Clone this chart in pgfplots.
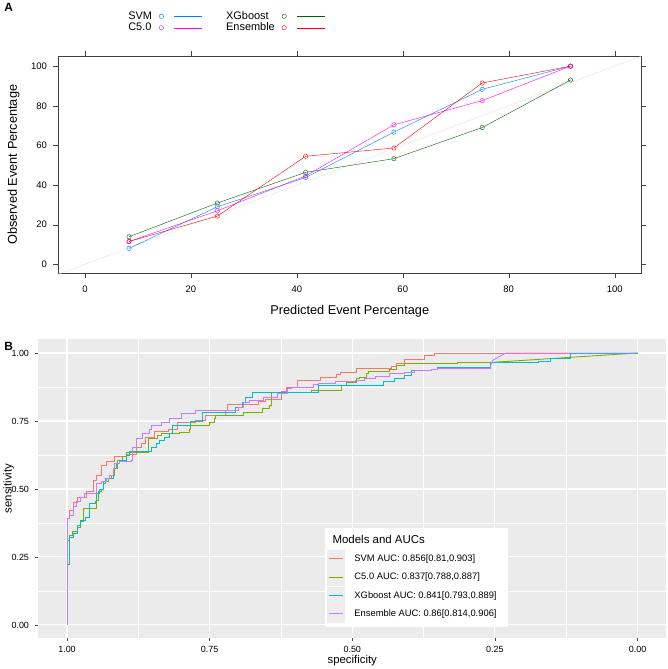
\documentclass[border=0pt]{standalone}
\usepackage{fontspec}
\setmainfont{Liberation Sans}
\usepackage{pgfplots}
\pgfplotsset{compat=1.18}
\definecolor{svma}{HTML}{0080FF}
\definecolor{cfivea}{HTML}{FF00FF}
\definecolor{xgba}{HTML}{006400}
\definecolor{ensa}{HTML}{FF0000}
\definecolor{rocsvm}{HTML}{F8766D}
\definecolor{roccfive}{HTML}{7CAE00}
\definecolor{rocxgb}{HTML}{00BFC4}
\definecolor{rocens}{HTML}{C77CFF}
\definecolor{panelbg}{HTML}{EBEBEB}
\definecolor{keybg}{HTML}{EDEDED}
\definecolor{gtext}{HTML}{4D4D4D}
\definecolor{diag}{HTML}{E0E0E0}
\definecolor{boxcol}{HTML}{404040}
\begin{document}
\begin{tikzpicture}
\path (0pt,0pt) rectangle (669pt,669pt);
\node[font=\bfseries\fontsize{12}{12}\selectfont] at (8pt,662pt) {A};
\node[font=\bfseries\fontsize{12}{12}\selectfont] at (8pt,322pt) {B};
% ---------------- Panel A ----------------
\begin{axis}[at={(58pt,395pt)}, anchor=south west, scale only axis,
  width=585pt, height=218pt,
  xmin=-5, xmax=105, ymin=-4.6, ymax=105,
  xtick={0,20,...,100}, ytick={0,20,...,100},
  xticklabel pos=lower, yticklabel pos=left,
  xtick pos=both, ytick pos=both,
  tick align=outside, major tick length=5pt,
  axis line style={draw=boxcol}, tick style={draw=boxcol},
  tick label style={font=\fontsize{9.5}{9.5}\selectfont},
  xticklabel style={yshift=-4pt}, yticklabel style={xshift=-3pt},
  /pgf/number format/assume math mode=true,
  xlabel={Predicted Event Percentage},
  ylabel={Observed Event Percentage},
  xlabel style={font=\fontsize{12.8}{12.8}\selectfont, at={(axis description cs:0.5,-0.175)}, anchor=center},
  ylabel style={font=\fontsize{12.8}{12.8}\selectfont, at={(axis description cs:-0.077,0.5)}, anchor=center},
  legend columns=2, legend plot pos=right,
  legend style={draw=none, fill=none, at={(axis description cs:0.111,1.225)}, anchor=north west,
    font=\fontsize{11}{11}\selectfont, row sep=-2pt,
    /tikz/every odd column/.append style={column sep=5pt},
    /tikz/every even column/.append style={column sep=22pt}},
  legend cell align=left,
]
\addplot[draw=diag, forget plot] coordinates {(-5,-5) (105,105)};
\addplot[draw=svma, mark=o, mark size=2.2pt, mark options={draw=svma, fill=none}, forget plot] coordinates {(8.33,8.0) (25,29.0) (41.67,43.8) (58.33,66.7) (75,88.3) (91.67,100)};
\addplot[draw=cfivea, mark=o, mark size=2.2pt, mark options={draw=cfivea, fill=none}, forget plot] coordinates {(8.33,11.5) (25,27.0) (41.67,44.6) (58.33,70.4) (75,82.6) (91.67,100)};
\addplot[draw=xgba, mark=o, mark size=2.2pt, mark options={draw=xgba, fill=none}, forget plot] coordinates {(8.33,13.9) (25,30.9) (41.67,46.4) (58.33,53.3) (75,69.0) (91.67,93.0)};
\addplot[draw=ensa, mark=o, mark size=2.2pt, mark options={draw=ensa, fill=none}, forget plot] coordinates {(8.33,11.5) (25,24.3) (41.67,54.5) (58.33,58.7) (75,91.5) (91.67,100)};
\addlegendimage{legend image code/.code={\path[draw=svma] (2.2pt,0pt) circle (2.2pt); \path[draw=svma] (15pt,0pt) -- (43pt,0pt);}}
\addlegendentry{SVM}
\addlegendimage{legend image code/.code={\path[draw=xgba] (2.2pt,0pt) circle (2.2pt); \path[draw=xgba] (15pt,0pt) -- (43pt,0pt);}}
\addlegendentry{XGboost}
\addlegendimage{legend image code/.code={\path[draw=cfivea] (2.2pt,0pt) circle (2.2pt); \path[draw=cfivea] (15pt,0pt) -- (43pt,0pt);}}
\addlegendentry{C5.0}
\addlegendimage{legend image code/.code={\path[draw=ensa] (2.2pt,0pt) circle (2.2pt); \path[draw=ensa] (15pt,0pt) -- (43pt,0pt);}}
\addlegendentry{Ensemble}
\end{axis}
% ---------------- Panel B ----------------
\begin{axis}[at={(38pt,29pt)}, anchor=south west, scale only axis,
  width=630pt, height=300pt,
  x dir=reverse,
  xmin=-0.05, xmax=1.05, ymin=-0.048, ymax=1.051,
  axis background/.style={fill=panelbg, draw=none},
  axis line style={draw=none},
  grid=both,
  major grid style={draw=white, line width=1.1pt},
  minor grid style={draw=white, line width=0.5pt},
  xtick={0,0.25,0.5,0.75,1}, ytick={0,0.25,0.5,0.75,1},
  minor xtick={0.125,0.375,0.625,0.875}, minor ytick={0.125,0.375,0.625,0.875},
  minor tick length=0pt, major tick length=3pt,
  tick align=outside, xtick pos=left, ytick pos=left,
  tick style={draw=gtext, line width=0.5pt},
  /pgf/number format/.cd, fixed, fixed zerofill, precision=2, assume math mode=true, /pgfplots/.cd,
  tick label style={font=\fontsize{9}{9}\selectfont},
  xticklabel style={yshift=-2pt}, yticklabel style={xshift=-3pt},
  xlabel={specificity}, ylabel={sensitivity},
  xlabel style={font=\fontsize{11.4}{11.4}\selectfont, at={(axis description cs:0.5,-0.075)}, anchor=center},
  ylabel style={font=\fontsize{11.4}{11.4}\selectfont, at={(axis description cs:-0.0476,0.5)}, anchor=center},
  legend style={draw=none, fill=white, at={(axis description cs:0.4556,0.37)}, anchor=north west,
    font=\fontsize{9.4}{9.4}\selectfont, row sep=0.4pt, inner xsep=2pt, inner ysep=4pt,
    /tikz/every odd column/.append style={column sep=8pt}},
  legend cell align=left,
  every axis plot/.append style={line width=0.9pt},
]
\addplot[draw=rocsvm, const plot, forget plot] coordinates {
(1,0) (1,0.39) (0.995,0.42) (0.989,0.45) (0.982,0.47) (0.966,0.49) (0.954,0.53) (0.948,0.55)
(0.94,0.587) (0.931,0.6) (0.916,0.618) (0.896,0.626) (0.879,0.652) (0.870,0.667) (0.863,0.69)
(0.846,0.71) (0.823,0.72) (0.806,0.746) (0.774,0.752) (0.757,0.77) (0.722,0.789) (0.719,0.81)
(0.664,0.823) (0.652,0.83) (0.624,0.86) (0.615,0.875) (0.596,0.90) (0.556,0.91) (0.528,0.92)
(0.52,0.93) (0.493,0.944) (0.432,0.95) (0.423,0.96) (0.408,0.978) (0.373,0.99) (0.356,1.0) (0,1.0)};
\addplot[draw=roccfive, const plot, forget plot] coordinates {
(1,0) (1,0.31) (0.995,0.33) (0.99,0.343) (0.982,0.36) (0.977,0.38) (0.972,0.428) (0.948,0.459)
(0.945,0.49) (0.94,0.5) (0.937,0.526) (0.928,0.538) (0.922,0.55) (0.916,0.575) (0.911,0.605)
(0.902,0.618) (0.896,0.634) (0.858,0.685) (0.841,0.697) (0.835,0.703) (0.803,0.709) (0.786,0.72)
(0.783,0.734) (0.751,0.746) (0.742,0.758) (0.739,0.77) (0.69,0.783) (0.658,0.795) (0.646,0.807)
(0.641,0.855) (0.571,0.862) (0.519,0.88) (0.51,0.892) (0.492,0.905) (0.487,0.91) (0.475,0.923)
(0.472,0.933) (0.434,0.94) (0.423,0.953) (0.408,0.96) (0.315,0.966) (0.251,0.966)};
\addplot[draw=roccfive, forget plot] coordinates {(0.251,0.966) (0,1)};
\addplot[draw=rocxgb, const plot, forget plot] coordinates {
(1,0) (1,0.223) (0.995,0.32) (0.989,0.337) (0.982,0.367) (0.977,0.386) (0.967,0.394) (0.961,0.447)
(0.951,0.455) (0.948,0.483) (0.943,0.5) (0.937,0.52) (0.932,0.538) (0.919,0.575) (0.913,0.593)
(0.908,0.605) (0.896,0.624) (0.89,0.638) (0.852,0.654) (0.844,0.667) (0.838,0.679) (0.829,0.69)
(0.821,0.703) (0.815,0.734) (0.783,0.75) (0.763,0.783) (0.704,0.80) (0.693,0.818) (0.687,0.835)
(0.675,0.855) (0.56,0.88) (0.446,0.894) (0.426,0.905) (0.408,0.917) (0.397,0.935) (0.362,0.94)
(0.35,0.947) (0.257,0.966) (0.173,0.97) (0.152,0.98) (0.118,1.0) (0,1.0)};
\addplot[draw=rocens, const plot, forget plot] coordinates {
(1,0) (1,0.39) (0.995,0.404) (0.989,0.435) (0.983,0.453) (0.977,0.47) (0.969,0.483) (0.948,0.52)
(0.94,0.526) (0.931,0.538) (0.925,0.55) (0.919,0.577) (0.916,0.593) (0.908,0.6) (0.887,0.605)
(0.885,0.654) (0.879,0.685) (0.867,0.703) (0.855,0.72) (0.852,0.734) (0.835,0.746) (0.821,0.758)
(0.8,0.777) (0.774,0.789) (0.699,0.80) (0.69,0.818) (0.681,0.825) (0.655,0.837) (0.632,0.85)
(0.614,0.868) (0.606,0.874) (0.568,0.883) (0.559,0.889) (0.53,0.895) (0.495,0.9) (0.478,0.907)
(0.46,0.913) (0.434,0.923) (0.408,0.93) (0.391,0.935) (0.362,0.938) (0.35,0.944) (0.257,0.957)};
\addplot[draw=rocens, forget plot] coordinates {(0.257,0.957) (0.253,0.974) (0.231,1) (0,1)};
\addlegendimage{legend image code/.code={\path[draw=none, fill=none] (-9pt,-9pt) rectangle (9pt,9pt);}}
\addlegendentry[font=\fontsize{11.5}{11.5}\selectfont]{\hspace{-22pt}Models and AUCs}
\addlegendimage{legend image code/.code={\path[fill=keybg, draw=none] (-9pt,-9pt) rectangle (9pt,9pt); \path[draw=rocsvm, line width=0.9pt] (-7pt,0pt) -- (7pt,0pt);}}
\addlegendentry{SVM AUC: 0.856[0.81,0.903]}
\addlegendimage{legend image code/.code={\path[fill=keybg, draw=none] (-9pt,-9pt) rectangle (9pt,9pt); \path[draw=roccfive, line width=0.9pt] (-7pt,0pt) -- (7pt,0pt);}}
\addlegendentry{C5.0 AUC: 0.837[0.788,0.887]}
\addlegendimage{legend image code/.code={\path[fill=keybg, draw=none] (-9pt,-9pt) rectangle (9pt,9pt); \path[draw=rocxgb, line width=0.9pt] (-7pt,0pt) -- (7pt,0pt);}}
\addlegendentry{XGboost AUC: 0.841[0.793,0.889]\hspace*{7pt}}
\addlegendimage{legend image code/.code={\path[fill=keybg, draw=none] (-9pt,-9pt) rectangle (9pt,9pt); \path[draw=rocens, line width=0.9pt] (-7pt,0pt) -- (7pt,0pt);}}
\addlegendentry{Ensemble AUC: 0.86[0.814,0.906]}
\end{axis}
\end{tikzpicture}
\end{document}
